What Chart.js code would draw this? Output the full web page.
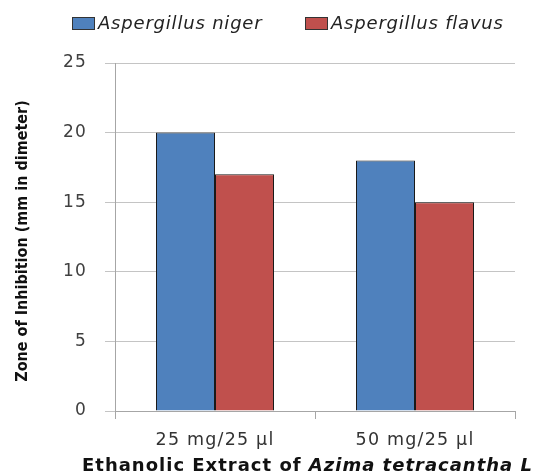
<!DOCTYPE html>
<html>
<head>
<meta charset="utf-8">
<script src="https://cdn.jsdelivr.net/npm/chart.js@4.4.0/dist/chart.umd.min.js"></script>
<style>
  body { margin: 0; background: #fff; }
  #wrap { width: 548px; height: 474px; }
</style>
</head>
<body>
<div id="wrap"><canvas id="myChart"></canvas></div>
<script>
// data
var categories = ['25 mg/25 \u00b5l', '50 mg/25 \u00b5l'];
var seriesNames = ['Aspergillus niger', 'Aspergillus flavus'];
var nigerValues = [20, 18];
var flavusValues = [17, 15];
var yTicks = [0, 5, 10, 15, 20, 25];

var blue = '#4f81bd';
var red = '#c0504d';

// slightly wider tick text like the original picture
var spacing = {
    id: 'spacing',
    beforeDraw: function (chart) {
        chart.ctx.letterSpacing = '1.2px';
    },
    afterDraw: function (chart) {
        chart.ctx.letterSpacing = '0px';
    }
};

// legend, axis titles with mixed italic, drawn by hand
var extraText = {
    id: 'extraText',
    afterDraw: function (chart) {
        var ctx = chart.ctx;
        ctx.save();
        // legend
        var items = [
            { x: 72, color: blue, text: seriesNames[0] },
            { x: 305, color: red, text: seriesNames[1] }
        ];
        ctx.letterSpacing = '0.8px';
        ctx.font = 'oblique 18px "DejaVu Sans"';
        ctx.textBaseline = 'middle';
        items.forEach(function (it) {
            ctx.fillStyle = it.color;
            ctx.fillRect(it.x, 17, 23, 13);
            ctx.strokeStyle = '#333';
            ctx.lineWidth = 1;
            ctx.strokeRect(it.x + 0.5, 17.5, 22, 12);
            ctx.fillStyle = '#222';
            ctx.fillText(it.text, it.x + 26, 24);
        });
        // x axis title
        var y = 466;
        var part1 = 'Ethanolic Extract of ';
        var part2 = 'Azima tetracantha L';
        ctx.fillStyle = '#111';
        ctx.letterSpacing = '1px';
        ctx.font = 'bold 18px "DejaVu Sans"';
        var x = 82;
        ctx.fillText(part1, x, y);
        x += ctx.measureText(part1).width;
        ctx.font = 'oblique bold 18px "DejaVu Sans"';
        ctx.fillText(part2, x, y);
        // y axis title
        ctx.letterSpacing = '0px';
        ctx.translate(23, 241);
        ctx.rotate(-Math.PI / 2);
        ctx.textAlign = 'center';
        ctx.font = 'bold 16px "DejaVu Sans Condensed"';
        ctx.fillText('Zone of Inhibition (mm in dimeter)', 0, 0);
        ctx.restore();
    }
};

var ctx = document.getElementById('myChart').getContext('2d');

new Chart(ctx, {
    type: 'bar',
    data: {
        labels: categories,
        datasets: [{
            label: seriesNames[0],
            data: nigerValues,
            backgroundColor: blue,
            borderColor: '#1a1a1a',
            borderWidth: 1,
            borderSkipped: 'bottom'
        }, {
            label: seriesNames[1],
            data: flavusValues,
            backgroundColor: red,
            borderColor: '#1a1a1a',
            borderWidth: 1,
            borderSkipped: 'bottom'
        }]
    },
    options: {
        responsive: true,
        maintainAspectRatio: false,
        animation: false,
        datasets: {
            bar: {
                categoryPercentage: 0.59,
                barPercentage: 1.0
            }
        },
        layout: {
            padding: { left: 0, right: 33, top: 63, bottom: 0 }
        },
        scales: {
            y: {
                min: 0,
                max: 25,
                afterBuildTicks: function (axis) {
                    axis.ticks = yTicks.map(function (v) { return { value: v }; });
                },
                afterFit: function (axis) {
                    axis.width = 115;
                },
                ticks: {
                    color: '#404040',
                    font: { family: '"DejaVu Sans"', size: 17 },
                    padding: 18
                },
                grid: {
                    color: '#c4c4c4',
                    tickLength: 10
                },
                border: { color: '#a6a6a6' }
            },
            x: {
                afterFit: function (axis) {
                    axis.height = 63;
                },
                ticks: {
                    color: '#333',
                    font: { family: '"DejaVu Sans"', size: 17.5 },
                    padding: 11
                },
                grid: {
                    drawOnChartArea: false,
                    color: '#a6a6a6',
                    tickLength: 8
                },
                border: { color: '#a6a6a6' }
            }
        },
        plugins: {
            legend: { display: false },
            tooltip: { enabled: false }
        }
    },
    plugins: [spacing, extraText]
});
</script>
</body>
</html>
